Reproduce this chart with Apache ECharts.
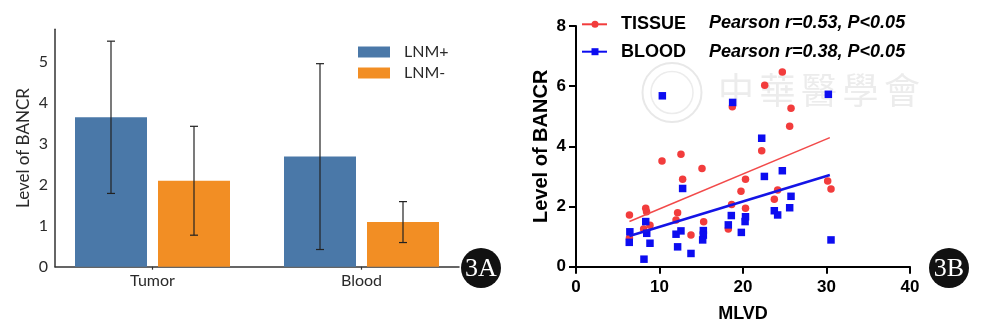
<!DOCTYPE html>
<html>
<head>
<meta charset="utf-8">
<script src="https://cdn.jsdelivr.net/npm/echarts@6/dist/echarts.min.js"></script>
<style>
  html, body { margin: 0; padding: 0; background: #fff; }
  #chart { width: 983px; height: 333px; }
</style>
</head>
<body>
<div id="chart"></div>
<script>
// ---- Panel A: BANCR level by lymph-node metastasis status ----
const groups = ['Tumor', 'Blood'];
const lnmPlusMean = [3.65, 2.69];
const lnmPlusSD = [1.86, 2.27];
const lnmMinusMean = [2.10, 1.09];
const lnmMinusSD = [1.33, 0.50];

// ---- Panel B: BANCR level vs MLVD ----
const tissuePoints = [
  [6.4, 1.72], [6.4, 0.95], [8.1, 1.25], [8.35, 1.94], [8.45, 1.83], [8.86, 1.38],
  [10.3, 3.51], [11.98, 1.55], [12.17, 1.79], [12.57, 3.74], [12.77, 2.91],
  [13.77, 1.05], [15.09, 3.26], [15.29, 1.49], [18.24, 1.25], [18.64, 2.07],
  [18.72, 5.32], [19.76, 2.51], [20.3, 2.91], [20.3, 1.94], [22.24, 3.85],
  [22.6, 6.03], [23.75, 2.24], [24.15, 2.55], [24.71, 6.47], [25.59, 4.67],
  [25.75, 5.27], [30.14, 2.85], [30.54, 2.58]
];
const bloodPoints = [
  [6.45, 1.16], [6.38, 0.81], [8.35, 1.50], [8.47, 1.11], [8.86, 0.78], [8.14, 0.25],
  [10.34, 5.68], [11.98, 1.08], [12.17, 0.66], [12.57, 1.19], [12.77, 2.60],
  [13.77, 0.44], [15.25, 1.20], [15.25, 1.05], [15.17, 0.89], [18.24, 1.39],
  [18.6, 1.70], [18.76, 5.46], [19.8, 1.14], [20.25, 1.50], [20.3, 1.66],
  [22.24, 4.27], [22.56, 3.00], [23.75, 1.86], [24.15, 1.72], [24.71, 3.19],
  [25.59, 1.96], [25.75, 2.34], [30.22, 5.73], [30.54, 0.89]
];
const tissueFit = [[6.4, 1.50], [30.4, 4.29]];
const bloodFit = [[6.4, 1.02], [30.4, 3.05]];

const tissueLabel = 'TISSUE';
const bloodLabel = 'BLOOD';
const tissueStat = 'Pearson r=0.53, P<0.05';
const bloodStat = 'Pearson r=0.38, P<0.05';

const BAR_W = 72;
const BAR_GAP = 11;
const BAR_SHIFT = (BAR_W + BAR_GAP) / 2;

const fontA = 'Lato, "DejaVu Sans", sans-serif';
const fontB = '"Liberation Sans", Arial, sans-serif';
const colPlus = '#4a78a8';
const colMinus = '#f28e24';
const colRed = '#f23c3c';
const colBlue = '#0c0cf0';

function errorBarSeries(name, means, sds, shift) {
  return {
    name: name,
    type: 'custom',
    xAxisIndex: 1,
    yAxisIndex: 1,
    z: 5,
    data: groups.map((g, i) => [i, means[i], sds[i]]),
    encode: { x: 0, y: 1 },
    renderItem: function (params, api) {
      const idx = api.value(0);
      const m = api.value(1);
      const s = api.value(2);
      const top = api.coord([idx, m + s]);
      const bot = api.coord([idx, m - s]);
      const x = top[0] + shift;
      const cap = 4;
      const style = { stroke: '#222', lineWidth: 1.2 };
      return {
        type: 'group',
        children: [
          { type: 'line', shape: { x1: x, y1: top[1], x2: x, y2: bot[1] }, style: style },
          { type: 'line', shape: { x1: x - cap, y1: top[1], x2: x + cap, y2: top[1] }, style: style },
          { type: 'line', shape: { x1: x - cap, y1: bot[1], x2: x + cap, y2: bot[1] }, style: style }
        ]
      };
    }
  };
}

// faint society watermark over panel B
const watermarkChars = '中華醫學會'.split('');
const watermark = watermarkChars.map((ch, i) => ({
  type: 'text',
  left: 718 + i * 41.5,
  top: 72,
  silent: true,
  z: 0,
  style: { text: ch, font: '36px "Noto Sans CJK TC"', fill: '#ececec' }
}));

const chart = echarts.init(document.getElementById('chart'), null, { renderer: 'canvas' });

chart.setOption({
  animation: false,
  backgroundColor: '#fff',
  grid: [
    { left: 55, top: 29.3, width: 404, height: 237.4 },
    { left: 48, top: 29.3, width: 418, height: 237.4 },
    { left: 576, top: 26, width: 334, height: 240.7 }
  ],
  legend: {
    data: ['LNM+', 'LNM-'],
    orient: 'vertical',
    left: 353,
    top: 39,
    itemWidth: 32,
    itemHeight: 11,
    itemGap: 5,
    icon: 'rect',
    selectedMode: false,
    textStyle: { fontFamily: fontA, fontSize: 16, color: '#2a2a2a', padding: [0, 0, 0, 9] }
  },
  xAxis: [
    {
      gridIndex: 0, type: 'category', data: groups,
      axisLine: { lineStyle: { color: '#333', width: 1.5 } },
      axisTick: { show: false }, axisLabel: { show: false }
    },
    {
      gridIndex: 1, type: 'category', data: groups,
      axisLine: { show: false },
      axisTick: { show: true, alignWithLabel: true, length: 3, lineStyle: { color: '#333', width: 1.2 } },
      axisLabel: { fontFamily: fontA, fontSize: 16, color: '#2a2a2a', margin: 6 }
    },
    {
      gridIndex: 2, type: 'value', min: 0, max: 40, interval: 10,
      name: 'MLVD', nameLocation: 'middle', nameGap: 38,
      nameTextStyle: { fontFamily: fontB, fontWeight: 'bold', fontSize: 18, color: '#000' },
      axisLine: { lineStyle: { color: '#000', width: 2 } },
      axisTick: { length: 7, lineStyle: { color: '#000', width: 2 } },
      axisLabel: { margin: 12, fontFamily: fontB, fontWeight: 'bold', fontSize: 17, color: '#000' },
      splitLine: { show: false }
    }
  ],
  yAxis: [
    {
      gridIndex: 0, type: 'value', min: 0, max: 5.8, interval: 1,
      name: 'Level of BANCR', nameLocation: 'middle', nameGap: 23,
      nameTextStyle: { fontFamily: fontA, fontSize: 17, color: '#2a2a2a' },
      axisLine: { show: true, lineStyle: { color: '#333', width: 1.5 } },
      axisTick: { show: false },
      axisLabel: {
        fontFamily: fontA, fontSize: 16, color: '#2a2a2a', margin: 7,
        formatter: v => (Number.isInteger(v) ? String(v) : '')
      },
      splitLine: { show: false }
    },
    { gridIndex: 1, type: 'value', min: 0, max: 5.8, show: false },
    {
      gridIndex: 2, type: 'value', min: 0, max: 8, interval: 2,
      name: 'Level of BANCR', nameLocation: 'middle', nameGap: 25,
      nameTextStyle: { fontFamily: fontB, fontWeight: 'bold', fontSize: 20, color: '#000' },
      axisLine: { show: true, lineStyle: { color: '#000', width: 2 } },
      axisTick: { show: true, length: 7, lineStyle: { color: '#000', width: 2 } },
      axisLabel: { margin: 10, fontFamily: fontB, fontWeight: 'bold', fontSize: 17, color: '#000' },
      splitLine: { show: false }
    }
  ],
  series: [
    {
      name: 'LNM+', type: 'bar', xAxisIndex: 1, yAxisIndex: 1,
      data: lnmPlusMean, barWidth: BAR_W, barGap: (BAR_GAP / BAR_W * 100) + '%',
      itemStyle: { color: colPlus }
    },
    {
      name: 'LNM-', type: 'bar', xAxisIndex: 1, yAxisIndex: 1,
      data: lnmMinusMean, barWidth: BAR_W,
      itemStyle: { color: colMinus }
    },
    errorBarSeries('LNM+ SD', lnmPlusMean, lnmPlusSD, -BAR_SHIFT),
    errorBarSeries('LNM- SD', lnmMinusMean, lnmMinusSD, BAR_SHIFT),
    {
      name: tissueLabel, type: 'scatter', xAxisIndex: 2, yAxisIndex: 2,
      data: tissuePoints, symbol: 'circle', symbolSize: 7.5,
      itemStyle: { color: colRed, opacity: 1 }, z: 3
    },
    {
      name: bloodLabel, type: 'scatter', xAxisIndex: 2, yAxisIndex: 2,
      data: bloodPoints, symbol: 'rect', symbolSize: 7.5,
      itemStyle: { color: colBlue, opacity: 1 }, z: 4
    },
    {
      name: tissueLabel + ' fit', type: 'line', xAxisIndex: 2, yAxisIndex: 2,
      data: tissueFit, showSymbol: false, silent: true, z: 5,
      lineStyle: { color: '#f24a4a', width: 1.6 }
    },
    {
      name: bloodLabel + ' fit', type: 'line', xAxisIndex: 2, yAxisIndex: 2,
      data: bloodFit, showSymbol: false, silent: true, z: 5,
      lineStyle: { color: '#1414e6', width: 2.5 }
    }
  ],
  graphic: [
    // seal outline behind the scatter
    { type: 'circle', silent: true, z: 0, shape: { cx: 672, cy: 92.5, r: 29.5 }, style: { fill: 'none', stroke: '#e8e8e8', lineWidth: 2 } },
    { type: 'circle', silent: true, z: 0, shape: { cx: 672, cy: 92.5, r: 21 }, style: { fill: 'none', stroke: '#ececec', lineWidth: 1.5 } },
    ...watermark,
    // panel B legend
    { type: 'line', shape: { x1: 582, y1: 24.3, x2: 607, y2: 24.3 }, style: { stroke: colRed, lineWidth: 2 } },
    { type: 'circle', shape: { cx: 595, cy: 24.3, r: 3.5 }, style: { fill: colRed } },
    { type: 'text', x: 621, y: 24.3, style: { text: tissueLabel, font: 'bold 18px ' + fontB, fill: '#000', verticalAlign: 'middle' } },
    { type: 'line', shape: { x1: 582, y1: 51.7, x2: 607, y2: 51.7 }, style: { stroke: colBlue, lineWidth: 2 } },
    { type: 'rect', shape: { x: 591.5, y: 48.2, width: 7, height: 7 }, style: { fill: colBlue } },
    { type: 'text', x: 621, y: 51.7, style: { text: bloodLabel, font: 'bold 18px ' + fontB, fill: '#000', verticalAlign: 'middle' } },
    { type: 'text', x: 709, y: 23.5, style: { text: tissueStat, font: 'italic bold 18px ' + fontB, fill: '#000', verticalAlign: 'middle' } },
    { type: 'text', x: 709, y: 51.7, style: { text: bloodStat, font: 'italic bold 18px ' + fontB, fill: '#000', verticalAlign: 'middle' } },
    // panel badges
    { type: 'circle', shape: { cx: 481, cy: 268, r: 20 }, style: { fill: '#111' } },
    { type: 'text', x: 481, y: 269, style: { text: '3A', font: '26px "Liberation Serif", serif', fill: '#fff', align: 'center', verticalAlign: 'middle' } },
    { type: 'circle', shape: { cx: 949, cy: 268, r: 20 }, style: { fill: '#111' } },
    { type: 'text', x: 949, y: 269, style: { text: '3B', font: '26px "Liberation Serif", serif', fill: '#fff', align: 'center', verticalAlign: 'middle' } }
  ]
});
</script>
</body>
</html>
